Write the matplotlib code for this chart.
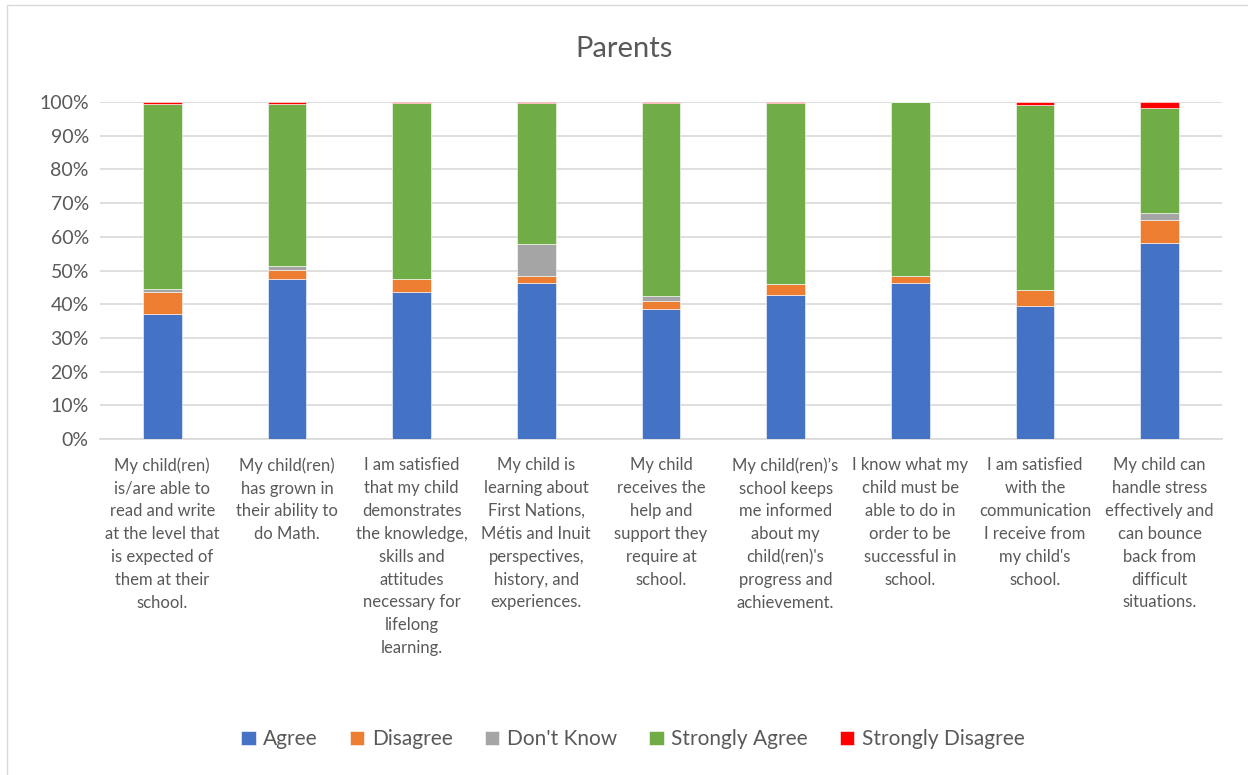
import matplotlib.pyplot as plt
from matplotlib.patches import Rectangle
import numpy as np

plt.rcParams['font.family'] = ['Lato', 'DejaVu Sans']

categories = [
    "My child(ren)\nis/are able to\nread and write\nat the level that\nis expected of\nthem at their\nschool.",
    "My child(ren)\nhas grown in\ntheir ability to\ndo Math.",
    "I am satisfied\nthat my child\ndemonstrates\nthe knowledge,\nskills and\nattitudes\nnecessary for\nlifelong\nlearning.",
    "My child is\nlearning about\nFirst Nations,\nMétis and Inuit\nperspectives,\nhistory, and\nexperiences.",
    "My child\nreceives the\nhelp and\nsupport they\nrequire at\nschool.",
    "My child(ren)\u2019s\nschool keeps\nme informed\nabout my\nchild(ren)'s\nprogress and\nachievement.",
    "I know what my\nchild must be\nable to do in\norder to be\nsuccessful in\nschool.",
    "I am satisfied\nwith the\ncommunication\nI receive from\nmy child's\nschool.",
    "My child can\nhandle stress\neffectively and\ncan bounce\nback from\ndifficult\nsituations.",
]

agree = [37.2, 47.4, 43.5, 46.4, 38.6, 42.8, 46.2, 39.6, 58.3]
disagree = [6.3, 2.8, 3.9, 2.1, 2.4, 3.1, 2.1, 4.6, 6.8]
dont_know = [1.0, 1.1, 0.1, 9.4, 1.4, 0.2, 0.0, 0.1, 2.0]
strongly_agree = [54.8, 48.2, 52.2, 41.8, 57.3, 53.6, 51.7, 54.9, 31.2]
strongly_disagree = [0.7, 0.5, 0.3, 0.3, 0.3, 0.3, 0.0, 0.8, 1.7]

series = [
    ("Agree", agree, "#4472C4"),
    ("Disagree", disagree, "#ED7D31"),
    ("Don't Know", dont_know, "#A5A5A5"),
    ("Strongly Agree", strongly_agree, "#70AD47"),
    ("Strongly Disagree", strongly_disagree, "#FF0000"),
]

text_color = "#595959"
grid_color = "#D9D9D9"

fig = plt.figure(figsize=(12.48, 7.75), dpi=100)
ax = fig.add_axes([0.0801, 0.4335, 0.899, 0.4348])

x = np.arange(len(categories))
bottom = np.zeros(len(categories))
for name, vals, color in series:
    v = np.array(vals) / 100.0
    ax.bar(x, v, width=0.31, bottom=bottom, color=color, label=name,
           edgecolor="white", linewidth=0.4, zorder=3)
    bottom += v

ax.set_xlim(-0.5, len(categories) - 0.5)
ax.set_ylim(0, 1)
ax.set_yticks(np.arange(0, 1.01, 0.1))
ax.set_yticklabels([f"{int(round(t * 100))}%" for t in np.arange(0, 1.01, 0.1)],
                   fontsize=14, color=text_color)
ax.set_xticks(x)
ax.set_xticklabels(categories, fontsize=12, color=text_color, linespacing=1.53)
ax.tick_params(axis="both", length=0)
ax.tick_params(axis="x", pad=13)
ax.tick_params(axis="y", pad=8)
ax.yaxis.grid(True, color=grid_color, linewidth=1.2, zorder=0)
for s in ["top", "right", "left"]:
    ax.spines[s].set_visible(False)
ax.spines["bottom"].set_color(grid_color)
ax.spines["bottom"].set_linewidth(1.2)

fig.text(0.5, 0.937, "Parents", ha="center", va="center", fontsize=21, color=text_color)

fig.legend(loc="center", bbox_to_anchor=(0.507, 0.046), ncol=5, frameon=False,
           fontsize=15, handlelength=0.7, handleheight=0.7, handletextpad=0.35,
           columnspacing=1.55, labelcolor=text_color)

fig.patches.append(Rectangle((0.0056, -0.01), 1.0, 1.003, transform=fig.transFigure,
                             fill=False, edgecolor="#D9D9D9", linewidth=1.0))

fig.savefig("out.png", dpi=100)
